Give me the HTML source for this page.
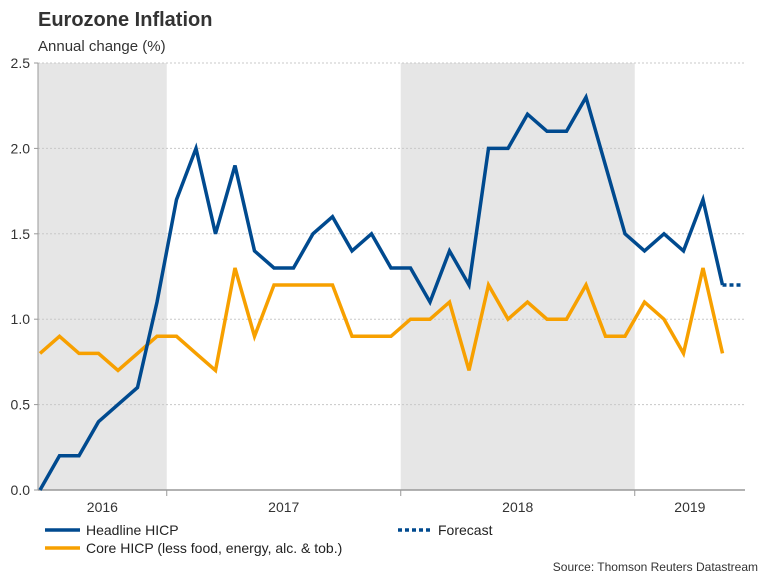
<!DOCTYPE html>
<html><head><meta charset="utf-8"><style>
body{margin:0;background:#fff;width:768px;height:576px;overflow:hidden;font-family:"Liberation Sans",sans-serif}
svg text{font-family:"Liberation Sans",sans-serif}
</style></head><body>
<svg id="c" width="768" height="576">
<text x="38" y="26" font-size="20" font-weight="bold" fill="#333">Eurozone Inflation</text>
<text x="38" y="51" font-size="15" fill="#333">Annual change (%)</text>
<g id="plot"></g>
<g>
<line x1="45" y1="530" x2="80" y2="530" stroke="#004a8f" stroke-width="3.5"/>
<text x="86" y="535" font-size="14" fill="#222">Headline HICP</text>
<line x1="45" y1="548" x2="80" y2="548" stroke="#f7a000" stroke-width="3.5"/>
<text x="86" y="553" font-size="14" fill="#222">Core HICP (less food, energy, alc. &amp; tob.)</text>
<line x1="398" y1="530" x2="432" y2="530" stroke="#004a8f" stroke-width="3.5" stroke-dasharray="4,3"/>
<text x="438" y="535" font-size="14" fill="#222">Forecast</text>
</g>
<text x="758" y="571" font-size="12" fill="#333" text-anchor="end">Source: Thomson Reuters Datastream</text>
</svg>
<script>
const headline=[0.0,0.2,0.2,0.4,0.5,0.6,1.1,1.7,2.0,1.5,1.9,1.4,1.3,1.3,1.5,1.6,1.4,1.5,1.3,1.3,1.1,1.4,1.2,2.0,2.0,2.2,2.1,2.1,2.3,1.9,1.5,1.4,1.5,1.4,1.7,1.2];
const core=[0.8,0.9,0.8,0.8,0.7,0.8,0.9,0.9,0.8,0.7,1.3,0.9,1.2,1.2,1.2,1.2,0.9,0.9,0.9,1.0,1.0,1.1,0.7,1.2,1.0,1.1,1.0,1.0,1.2,0.9,0.9,1.1,1.0,0.8,1.3,0.8];
const forecast=[1.2,1.2];
const yTicks=[0,0.5,1.0,1.5,2.0,2.5];
const years=["2016","2017","2018","2019"];
const yearStart=[-0.5,6.5,18.5,30.5];
const yearEnd=[6.5,18.5,30.5,36.8];
const NS="http://www.w3.org/2000/svg";
const g=document.getElementById('plot');
const X=i=>40+i*19.5;
const Y=v=>490-v*170.8;
function mk(t,a){const e=document.createElementNS(NS,t);for(const k in a)e.setAttribute(k,a[k]);g.appendChild(e);return e;}
[0,2].forEach(k=>{
 const r=mk('rect',{x:Math.max(38,X(yearStart[k])),y:63,width:X(yearEnd[k])-Math.max(38,X(yearStart[k])),height:427,fill:'#e6e6e6'});
 
 
});
yTicks.forEach(v=>{
 if(v>0){const l=mk('line',{x1:38,x2:745,y1:Y(v),y2:Y(v),stroke:'#c8c8c8','stroke-dasharray':'2,2'});
 
 }
 const tk=mk('line',{x1:34,x2:38,y1:Y(v),y2:Y(v),stroke:'#999'});
 
 
 const t=mk('text',{x:30,y:Y(v)+5,'font-size':14,fill:'#333','text-anchor':'end'});
 t.textContent=v.toFixed(1);
 
 
});
const ya=mk('line',{x1:38,x2:38,y1:63,y2:490,stroke:'#999'});


const xa=mk('line',{x1:38,x2:745,y1:490,y2:490,stroke:'#999','stroke-width':1.5});


years.forEach((yr,k)=>{
 if(k>0){const tk=mk('line',{x1:X(yearStart[k]),x2:X(yearStart[k]),y1:490,y2:496,stroke:'#999'});
 
 }
 const a=Math.max(38,X(yearStart[k])),b=Math.min(745,X(yearEnd[k]));
 const t=mk('text',{x:(a+b)/2,y:512,'font-size':14,fill:'#333','text-anchor':'middle'});
 t.textContent=yr;
 
 
});
function line(arr,off,color,name,dash){
 const p=arr.map((v,i)=>X(i+off).toFixed(1)+','+Y(v).toFixed(1)).join(' ');
 const a={points:p,fill:'none',stroke:color,'stroke-width':3.5,'stroke-linejoin':'miter'};
 if(dash)a['stroke-dasharray']=dash;
 const e=mk('polyline',a);
 
 
}
line(core,0,'#f7a000','core-hicp-line');
line(headline,0,'#004a8f','headline-hicp-line');
line(forecast,headline.length-1,'#004a8f','forecast-line','4,3');
</script>
</body></html>
